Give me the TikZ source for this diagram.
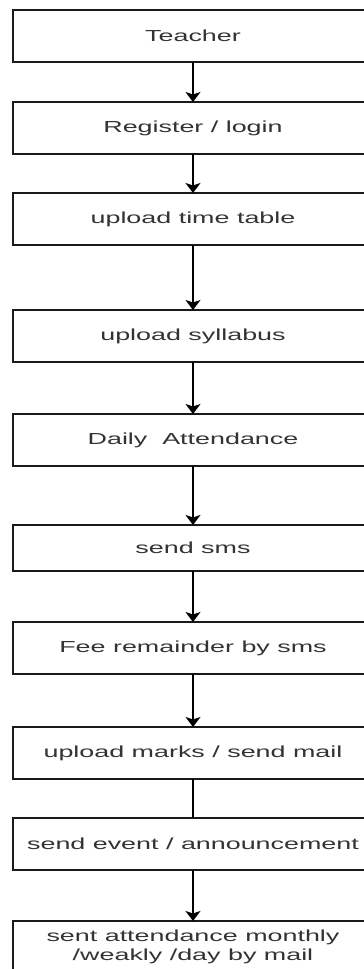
\documentclass[tikz,border=0pt]{standalone}
\usepackage{fontspec}
\setmainfont{Liberation Sans}
\usetikzlibrary{arrows.meta}
\definecolor{txt}{HTML}{333333}
\definecolor{edge}{HTML}{1A1A1A}
\newcommand{\wide}[1]{\scalebox{1.68}[1]{#1}}
\tikzset{
  box/.style={draw=edge, line width=1.3pt, fill=white, rectangle, minimum width=360pt,
    inner sep=0pt, outer sep=0pt, text=txt, align=center,
    font=\fontsize{16}{20}\selectfont},
  link/.style={draw=black, line width=1.5pt},
  arr/.style={link, -{Stealth[width=15pt, length=10pt, inset=2.5pt]}}
}
\begin{document}
\begin{tikzpicture}[x=1pt, y=-1pt]
\useasboundingbox (0,0) rectangle (364,969);
\clip (0,0) rectangle (364,969);
\node[box, minimum height=52pt] (n1) at (193,36) {\wide{Teacher}};
\node[box, minimum height=52pt] (n2) at (193,128) {\wide{Register / login}};
\node[box, minimum height=52pt] (n3) at (193,219) {\wide{upload time table}};
\node[box, minimum height=52pt] (n4) at (193,336) {\wide{upload syllabus}};
\node[box, minimum height=52pt] (n5) at (193,440) {\wide{Daily\ \ Attendance}};
\node[box, minimum height=46pt] (n6) at (193,548) {\wide{send sms}};
\node[box, minimum height=52pt] (n7) at (193,648) {\wide{Fee remainder by sms}};
\node[box, minimum height=52pt] (n8) at (193,753) {\wide{upload marks / send mail}};
\node[box, minimum height=52pt] (n9) at (193,844) {\wide{send event / announcement}};
\node[box, minimum height=52pt] (n10) at (193,947) {\wide{sent attendance monthly}\\[-1pt]\wide{/weakly /day by mail}};
\draw[arr] (n1) -- (n2);
\draw[arr] (n2) -- (n3);
\draw[arr] (n3) -- (n4);
\draw[arr] (n4) -- (n5);
\draw[arr] (n5) -- (n6);
\draw[arr] (n6) -- (n7);
\draw[arr] (n7) -- (n8);
\draw[link] (n8) -- (n9);
\draw[arr] (n9) -- (n10);
\end{tikzpicture}
\end{document}
